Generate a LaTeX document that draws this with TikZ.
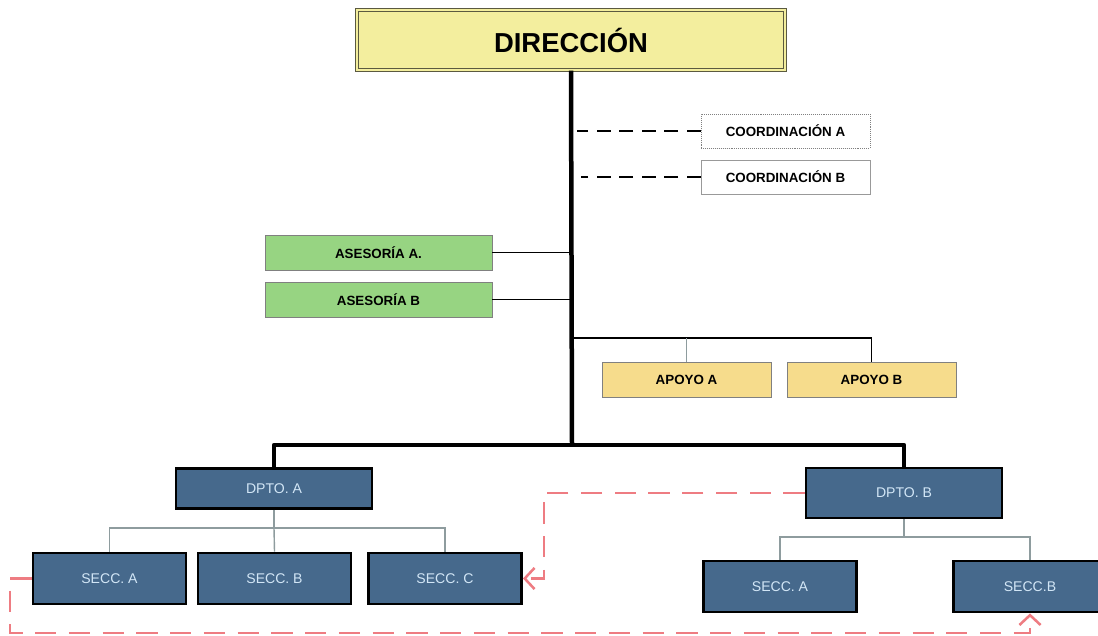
\documentclass[tikz,border=0pt]{standalone}
\usepackage{fontspec}
\setmainfont{Liberation Sans}
\usetikzlibrary{arrows.meta}
\definecolor{dirfill}{HTML}{F3EE9E}
\definecolor{dirline}{HTML}{5B5A40}
\definecolor{asfill}{HTML}{97D482}
\definecolor{apfill}{HTML}{F6DC8C}
\definecolor{dptfill}{HTML}{46698C}
\definecolor{dpttext}{HTML}{D2E6F6}
\definecolor{sublink}{HTML}{8E9C9E}
\definecolor{relink}{HTML}{EE7C82}
\begin{document}
\begin{tikzpicture}[x=0.025cm, y=-0.025cm,
    box/.style={rectangle, inner sep=0pt, font=\fontsize{9.5}{11}\selectfont\bfseries},
    unit/.style={rectangle, inner sep=0pt, draw=black, line width=2pt, fill=dptfill,
      text=dpttext, font=\fontsize{10}{12}\selectfont},
    trunk/.style={line width=3.2pt, line join=round},
    sub/.style={draw=sublink, line width=1pt},
    link/.style={draw=relink, line width=1.8pt, dash pattern=on 15pt off 9pt,
      ->, >={Straight Barb[length=7pt, width=15pt]}}]
        \clip (0,0) rectangle (1098,636);
        \fill[white] (0,0) rectangle (1098,636);

        \node[box, draw=dirline, double=dirfill, double distance=1.6pt, line width=0.8pt,
          fill=dirfill, minimum width=10.7cm, minimum height=1.5cm,
          font=\fontsize{19.5}{22}\selectfont\bfseries] (dir) at (571,40) {DIRECCIÓN};

        \node[box, draw=gray, densely dotted, minimum width=4.225cm, minimum height=0.85cm] (coA) at (785.5,131) {COORDINACIÓN A};
        \node[box, draw=gray!80, minimum width=4.225cm, minimum height=0.85cm] (coB) at (785.5,177) {COORDINACIÓN B};

        \node[box, draw=gray, fill=asfill, minimum width=5.675cm, minimum height=0.875cm] (asA) at (378.5,252.5) {ASESORÍA A.};
        \node[box, draw=gray, fill=asfill, minimum width=5.675cm, minimum height=0.875cm] (asB) at (378.5,299.5) {ASESORÍA B};

        \node[box, draw=gray, fill=apfill, minimum width=4.225cm, minimum height=0.875cm] (apA) at (686.5,379.5) {APOYO A};
        \node[box, draw=gray, fill=apfill, minimum width=4.225cm, minimum height=0.875cm] (apB) at (871.5,379.5) {APOYO B};

        \node[unit, minimum width=4.9cm, minimum height=1.0cm] (dA) at (274,488.5) {DPTO. A};
        \node[unit, minimum width=4.9cm, minimum height=1.25cm] (dB) at (904,493) {DPTO. B};

        \node[unit, minimum width=3.825cm, minimum height=1.275cm] (sA1) at (109.5,578.5) {SECC. A};
        \node[unit, minimum width=3.825cm, minimum height=1.275cm] (sB1) at (274.5,578.5) {SECC. B};
        \node[unit, minimum width=3.825cm, minimum height=1.275cm] (sC1) at (445,578.5) {SECC. C};
        \node[unit, minimum width=3.825cm, minimum height=1.275cm] (sA2) at (780,586.5) {SECC. A};
        \node[unit, minimum width=3.825cm, minimum height=1.275cm] (sB2) at (1030,586.5) {SECC.B};

        % main lines
        \coordinate (hub) at (572,445);
        \coordinate (ap) at (572,338);
        \draw[trunk] (dir.south) -- (hub);
        \draw[trunk] (dA.north) |- (hub) -| (dB.north);

        \draw[line width=1pt, dash pattern=on 10pt off 6pt] (coA.west) -- ++(-124,0);
        \draw[line width=1pt, dash pattern=on 10pt off 6pt] (coB.west) -- ++(-120,0);

        \draw[line width=0.8pt] (asA.east) -- (asA.east -| hub);
        \draw[line width=0.8pt] (asB.east) -- (asB.east -| hub);

        \draw[line width=0.8pt] (ap) -| (apB.north);
        \draw[sub] (apA.north) -- (apA.north |- ap);

        % sections
        \coordinate (jA) at (274,528);
        \coordinate (jB) at (904,537);
        \draw[sub] (dA.south) -- (jA);
        \draw[sub] (sA1.north) |- (jA) -| (sC1.north);
        \draw[sub] (jA) -- (sB1.north);
        \draw[sub] (dB.south) -- (jB);
        \draw[sub] (sA2.north) |- (jB) -| (sB2.north);

        % dashed relations
        \coordinate (bendC) at (544,578.5);
        \coordinate (lowL) at (10,633);
        \draw[link] (dB.west) -| (bendC) -- (sC1.east);
        \draw[link] (sA1.west) -| (lowL) -| (sB2.south);
      \end{tikzpicture}
\end{document}
